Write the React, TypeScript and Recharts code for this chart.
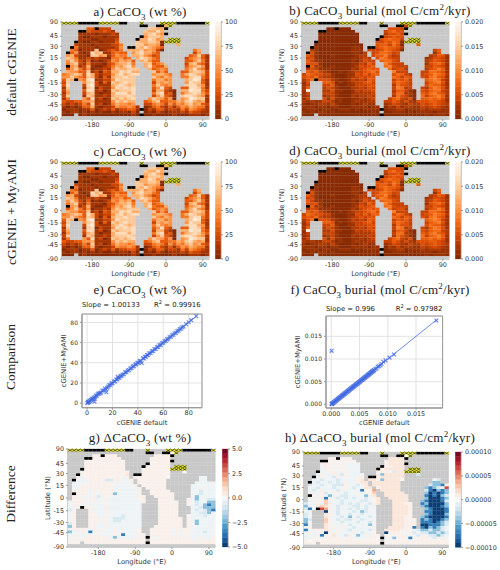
import { ScatterChart, Scatter, XAxis, YAxis, CartesianGrid, ReferenceArea } from "recharts";

// ocean/land mask of the cGENIE grid: . land, o ocean, # black, y hatched
const landMask = [
  "yyyy## ###yyy yy##.. .y.... yyyy## #####y",
  "...... ...... ...... .##..# #oy... ......",
  "...... oo#ooo ...... ...ooo o#.... ......",
  "....## oooooo o..... ..oooo o..... ......",
  "....oo oooooo oo.... ..oooo o#.... ......",
  "....oo oooooo oo.... .#oooo o..... ......",
  "....oo oooooo oo.... #ooooo o.yyy. ......",
  "...#oo oooooo oo.... oooooo oyyyy. ......",
  "...ooo oooooo ooo... oooooo o...o. ......",
  "..#ooo oooooo ooo.## oooooo o..... ......",
  "..oooo oooooo ooo.oo oooooo o..... ..oo..",
  ".#oooo oooooo oooo.o oooooo ...... ..oo..",
  ".ooooo oooooo oooo.o oooooo ...... .ooooo",
  ".ooooo oooooo ooooo. oooooo ...... oooooo",
  ".ooooo oooooo oooooo .ooooo ...... oooooo",
  ".ooooo oooooo oooooo ..oooo o..... oooooo",
  ".#oooo oooooo oooooo ..oooo oo.... oooooo",
  ".ooooo oooooo oooooo o..ooo oo.... oooooo",
  ".ooooo oooooo oooooo o...oo oo...o oooooo",
  "oooooo oooooo oooooo o...oo ooo..o oooooo",
  "oooooo oooooo oooooo ....oo ooo..o oooooo",
  "ooo#oo oooooo oooooo ....oo ooo... oooooo",
  "oo...o oooooo oooooo ....oo ooo... oooooo",
  "oo...o oooooo oooooo ....oo ooo... oooooo",
  "oo...o oooooo oooooo ....oo ooo..o oooooo",
  "oo...o oooooo oooooo ....oo oooo.o oooooo",
  "oo...o oooooo oooooo ....oo oooo.o oooooo",
  "oo...o oooooo oooooo ....oo oooo.o oooooo",
  "oo...o oooooo oooooo ...ooo oooo.o oooooo",
  "oooooo oooooo oooooo ..oooo oooooo oooooo",
  "oooooo oooooo oooooo ..oooo oooooo oooooo",
  "oooooo oooooo oooooo o.oooo oooooo oooooo",
  "oooooo oooooo oooooo o#oooo oooooo oooooo",
  "oooooo oooooo oooooo o.oooo oooooo oooooo",
  "ooo.oo oooooo oooooo o#oooo oooooo oooooo",
  "...... ...... ...... ...... ...... ......",
];

// wt % per cell, one digit per ten percent
const caco3Wt = [
  "",
  "000000 000000 000000 000000 060000 000000",
  "000000 330222 000000 000776 600000 000000",
  "000000 322232 100000 007668 600000 000000",
  "000011 110111 210000 006786 500000 000000",
  "000010 011101 110000 005777 600000 000000",
  "000011 100111 120000 066875 600000 000000",
  "000010 011011 130000 766776 000000 000000",
  "000211 101111 224000 775665 000060 000000",
  "000411 110111 125000 768654 300000 000000",
  "004301 117012 324066 675652 000000 004600",
  "003510 186711 343305 786643 000000 002500",
  "056211 077561 354406 675423 000000 034731",
  "076411 212110 445340 687643 000000 245631",
  "057521 301012 546563 067533 000000 335741",
  "046721 411102 356674 006734 500000 267431",
  "005612 610012 465785 006843 360000 356751",
  "035742 501121 576677 700634 540000 468541",
  "065533 712032 668786 600073 530003 367762",
  "456763 862122 578678 800056 654004 687652",
  "557543 762031 677877 000075 465004 478842",
  "376054 891122 587777 000046 645000 679831",
  "270005 782031 767877 000026 565000 587731",
  "380002 892111 678767 000047 545000 788651",
  "170001 780211 587878 000035 832003 388741",
  "260003 881201 767778 000026 621006 698842",
  "150002 671011 688868 000047 823004 678753",
  "270001 761121 677787 000025 732007 887651",
  "140005 381201 767678 000576 535005 698771",
  "322335 561111 576766 003467 334465 786561",
  "212124 271201 465545 002245 425354 675632",
  "101013 361011 254454 100134 213135 465441",
  "011101 130121 312233 100213 312214 254321",
  "101101 010100 101102 000102 101112 132211",
  "000001 000000 000001 000010 000100 011101",
  "",
];

// burial per cell, one digit per 0.0012 mol C/cm2/kyr, w = near the top of the scale
const caco3Burial = [
  "",
  "000000 000000 000000 000000 030000 000000",
  "000000 000000 000000 000444 300000 000000",
  "000000 000000 000000 003564 400000 000000",
  "000000 000000 000000 002445 300000 000000",
  "000000 000000 000000 003454 400000 000000",
  "000000 000000 000000 045655 300000 000000",
  "000000 000000 000000 435465 000000 000000",
  "000000 000000 000000 455364 000050 000000",
  "000100 000000 110000 456554 200000 000000",
  "002100 000000 111033 346543 000000 003500",
  "004100 000000 110203 466534 000000 001400",
  "053100 010000 012203 557423 000000 023541",
  "034100 000000 112320 476433 000000 124431",
  "053110 000000 102433 056643 000000 235431",
  "044410 000000 113253 007533 300000 145641",
  "005220 010000 124345 006743 330000 335431",
  "024311 100000 213454 500634 420000 245751",
  "054532 100101 233456 400073 330003 366541",
  "365443 310001 143535 500046 532003 457652",
  "454632 210001 234344 000065 354004 367541",
  "246044 421001 323254 000035 453000 567631",
  "140005 540101 233453 000046 543000 356741",
  "130003 351001 133344 000026 443000 465531",
  "150002 431000 223243 000037 623003 257641",
  "1w0002 241100 132334 000025 531004 356632",
  "130003 331000 122223 000036 622005 467542",
  "120001 231000 212232 000026 431006 356751",
  "130004 141100 112123 000356 324005 565641",
  "212113 320100 121122 003354 242144 455431",
  "101122 131000 101211 001243 213224 345432",
  "111011 011000 111101 100213 122113 234321",
  "011101 100111 010111 100112 201112 122211",
  "101011 010000 000001 000011 101011 110111",
  "000000 000000 000000 000000 000000 101110",
  "",
];

// differences, digits are positive steps and letters negative steps
const deltaWt = [
  "",
  "000000 000000 000000 000000 010000 000000",
  "000000 110111 000000 000111 100000 000000",
  "000000 111111 100000 001111 100000 000000",
  "000011 111111 110000 001111 100000 000000",
  "000011 111111 110000 001111 100000 000000",
  "000011 111111 110000 011111 100000 000000",
  "000011 111111 110000 111111 100000 000000",
  "000111 111111 111000 111111 100000 000000",
  "000111 111111 112000 111111 100000 000000",
  "001a11 111111 1a1011 111111 000000 00aa00",
  "01aaa1 111bb1 1aa101 111111 000000 00aa00",
  "0aaaa1 11111a 1aa101 111111 000000 0aaaa1",
  "0aa111 11111a aaaa10 111111 000000 aaaaaa",
  "0aa111 11111a aaaaa1 011111 000000 aa1aaa",
  "01111a 1a111a aaaaa1 001111 100000 aabaaa",
  "00111a 1a111c aaaaa1 001111 110000 aabaaa",
  "011a1a 1ba1aa aaaaa1 100111 110000 acaaaa",
  "0111a1 1aa1aa aaaaa1 100011 110001 acaabb",
  "a111aa 1a1aaa aaaaaa 100011 111001 abaacc",
  "a11a1a aaa1aa aaaaaa 000011 111001 abacdc",
  "aa1011 aaa1aa aaaaaa 000011 111000 aabccc",
  "b10001 aaa1aa aaaaaa 000011 111000 ababcd",
  "a10001 1aa1aa aaaaaa 000011 111000 aabbca",
  "a10001 1aa1aa abaaaa 000011 111000 aaabaa",
  "a10001 11a1ab bbaaaa 000011 111101 aaaaaa",
  "a10001 11a1ab baaaaa 000011 111101 acaaaa",
  "b10001 1aa1aa aaaaaa 000011 111101 acaaaa",
  "c10001 1aa1aa aaaaaa 000111 111101 aaaaaa",
  "a1111a 1a1aa1 aaaaa1 001111 1a1111 aaaaaa",
  "caa11d a1aaa1 aaaaa1 001111 1a1a11 aaabaa",
  "aa1aa1 a1aaa1 adaaa1 101111 1a1a1a aaaaaa",
  "a1aa11 1111ac aaaaa1 101a11 111a11 aa1aa1",
  "1a1111 111111 111111 101111 111111 a1a111",
  "111011 111111 111111 101111 111111 111111",
  "",
];

const deltaBurial = [
  "",
  "000000 000000 000000 000000 000000 000000",
  "000000 110111 000000 000222 200000 000000",
  "000000 111a11 100000 001222 200000 000000",
  "000011 111a1a a10000 001222 200000 000000",
  "0000a1 1a11aa aa0000 001122 200000 000000",
  "0000a1 1aa11a aa0000 012222 200000 000000",
  "0000aa 111a1a aa0000 1111b2 200000 000000",
  "000a1a a1ab1a aaa000 1c2222 2000b0 000000",
  "000a1a ab1a1a a11000 122222 200000 000000",
  "00aaba aabaaa a12022 1c2222 000000 00ab00",
  "00abaa baba1a a12212 222222 000000 00cc00",
  "0baaba abbb1a aba202 222222 000000 0bccd1",
  "0aabaa abaa1a baa220 122222 000000 cdcba5",
  "0aba1a aab1aa aad114 022222 000000 bdecdc",
  "0aaa1b a11aba a1a113 002222 200000 cededc",
  "0b1a1a caabba aaac12 002222 220000 dedecb",
  "0aa11d aababa baaba1 200222 220000 ceeedc",
  "0a1a13 1aabaa aabba1 200022 22000c deeedb",
  "baa1a3 1aabab abaab1 200022 21100d ceeeec",
  "caa232 1abaaa bbabaa 000022 22100c deeedc",
  "bda054 1abaab ababaa 000022 221000 cdeeed",
  "aa000e 1abaaa bacbaa 000022 221000 ddeeed",
  "ba0002 1abaab aabaaa 000022 221000 cdeeec",
  "ba0002 1aabac abaaba 000022 21100c deeeed",
  "cb0003 1ababb aabaaa 000022 21110d cdeedc",
  "ca0003 1aabaa abaaba 000022 21110d ddedcb",
  "da0002 1aa1ab aaaaca 000022 21110e edddcb",
  "a10002 11a1aa baaaa1 000222 211d0d ecdcba",
  "da1112 1a1aab aaaab1 002222 111abc cbccba",
  "a1aa1e 1a1aaa 1abaa1 00e111 1a1bab bccbcb",
  "aaa1da 12aab1 aca1a1 100111 1a1ab1 abbcba",
  "a1a1a1 111a11 aaaa11 00a1c1 11d111 1ab1a1",
  "101111 111111 111111 10a111 111111 111111",
  "111011 111111 111111 101111 111111 111111",
  "",
];

const latTicks = [90, 45, 30, 15, 0, -15, -30, -45, -90];
const lonTicks = [-180, -90, 0, 90];

const wtBarTicks = [0, 25, 50, 75, 100];
const burialBarTicks = [0, 0.005, 0.01, 0.015, 0.02];
const deltaWtBarTicks = [-5, -2.5, 0, 2.5, 5];
const deltaBurialBarTicks = [-0.0001, -0.00005, 0, 0.00005, 0.0001];

// panel e, read along the diagonal
const wtDefault = [0.2, 0.5, 0.8, 1.1, 1.5, 1.9, 2.4, 3, 3.5, 4, 4.6, 5.2, 5.8, 6, 6.4, 7, 7.6, 8.3, 9, 9.6, 10.4, 11, 12, 13, 14, 15, 15.2, 15.8, 16.7, 17.5, 18.4, 19.2, 20, 21, 22, 23, 23.8, 24.2, 24.6, 25.5, 26.4, 27.2, 28, 29, 30, 31, 32, 33, 34, 35, 36, 37, 38, 38.8, 39.6, 40.5, 41.4, 42.2, 43, 44, 44.8, 45.6, 46.4, 47.2, 48, 49, 50, 51, 52, 53, 54, 55, 56, 57, 58, 59, 60, 61, 62, 63, 64, 65, 66, 67, 68, 69, 70, 71, 72, 73, 74, 75, 76, 78, 80, 82, 86];
const wtMyami = [0.1, 0.7, 0.6, 1.4, 1.2, 2.3, 2.1, 3.4, 3.1, 4.4, 4.2, 5.6, 1.5, 4.4, 6.1, 7.5, 7.2, 8.8, 9.6, 9.3, 10.1, 10.6, 12.4, 12.6, 14.5, 13.6, 10.8, 15.3, 16.4, 17.8, 18.1, 19.6, 19.7, 21.5, 21.6, 23.4, 23.4, 26, 24.9, 25.1, 26.8, 27, 28.4, 28.7, 30.5, 30.7, 32.4, 32.7, 34.3, 34.7, 36.4, 36.6, 38.3, 38.5, 40, 40.1, 41.8, 41.8, 39.8, 44.4, 44.3, 46, 46, 47.6, 47.7, 49.3, 49.7, 51.3, 51.7, 53.3, 53.7, 55.3, 55.7, 57.3, 57.7, 59.3, 59.8, 61.2, 61.8, 63.2, 63.8, 65.2, 65.7, 67.3, 67.7, 69.2, 69.8, 71.2, 71.8, 73.2, 73.8, 75.2, 75.9, 78.2, 80.1, 82.2, 86.2];

// panel f
const burialDefault = [0.00005, 0.0001, 0.00015, 0.0002, 0.0003, 0.0004, 0.0005, 0.0006, 0.0007, 0.0008, 0.0009, 0.001, 0.0011, 0.0012, 0.0013, 0.0014, 0.0015, 0.0016, 0.0017, 0.0018, 0.0019, 0.002, 0.0021, 0.0022, 0.0023, 0.0024, 0.0025, 0.0026, 0.0027, 0.0028, 0.0029, 0.003, 0.0031, 0.0032, 0.0033, 0.0034, 0.0035, 0.0036, 0.0037, 0.0038, 0.0039, 0.004, 0.0041, 0.0042, 0.0043, 0.0044, 0.0045, 0.0046, 0.0047, 0.0048, 0.0049, 0.005, 0.0051, 0.0052, 0.0053, 0.0054, 0.0055, 0.0056, 0.0057, 0.0058, 0.0059, 0.006, 0.0061, 0.0062, 0.0063, 0.0064, 0.0065, 0.0066, 0.0067, 0.0068, 0.0069, 0.007, 0.0071, 0.0072, 0.0073, 0.0074, 0.0075, 0.0076, 0.0078, 0.008, 0.0082, 0.0084, 0.0087, 0.0089, 0.0092, 0.0096, 0.0103, 0.0111, 0.0186, 0.00005];
const burialMyami = [0.00006, 0.00008, 0.0002, 0.00018, 0.00032, 0.00037, 0.00052, 0.00057, 0.00073, 0.00076, 0.00092, 0.00098, 0.00112, 0.00118, 0.00133, 0.00137, 0.00152, 0.00157, 0.00173, 0.00177, 0.00192, 0.00197, 0.00212, 0.00217, 0.00232, 0.00237, 0.00252, 0.00257, 0.00272, 0.00277, 0.00292, 0.00297, 0.00312, 0.00317, 0.00332, 0.00337, 0.00352, 0.00357, 0.00372, 0.00376, 0.00392, 0.00396, 0.00412, 0.00416, 0.00432, 0.00436, 0.0045, 0.00456, 0.0047, 0.00476, 0.0049, 0.00496, 0.0051, 0.00516, 0.0053, 0.00536, 0.0055, 0.00556, 0.0057, 0.00576, 0.0059, 0.00596, 0.0061, 0.00616, 0.0063, 0.00636, 0.0065, 0.00656, 0.0067, 0.00676, 0.0069, 0.00696, 0.0071, 0.00716, 0.0073, 0.00736, 0.0075, 0.00756, 0.0078, 0.0079, 0.0083, 0.0084, 0.0086, 0.0089, 0.0094, 0.0097, 0.0103, 0.011, 0.0185, 0.0118];

const wtFit = [0, 86.4];
const burialFit = [0, 0.0186];

const colorbarSteps = Array.from({ length: 21 }, (_, i) => i / 21 + 1 / 42);

const oranges = ["#7f2704", "#a63603", "#d94801", "#f16913", "#fd8d3c", "#fdae6b", "#fdd0a2", "#fee6ce", "#fff5eb"];
const rdbu = ["#053061", "#2166ac", "#4393c3", "#92c5de", "#d1e5f0", "#f7f7f7", "#fddbc7", "#f4a582", "#d6604d", "#b2182b", "#67001f"];

const deltaSteps: Record<string, number> = { "0": 0, "1": 0.05, "2": 0.12, "3": 0.25, "4": 0.4, "5": 0.65, a: -0.05, b: -0.16, c: -0.42, d: -0.7, e: -0.95 };

function ramp(stops: string[], t: number) {
  const p = Math.min(Math.max(t, 0), 1) * (stops.length - 1);
  const i = Math.min(Math.floor(p), stops.length - 2);
  const f = p - i;
  const c = (s: string, k: number) => parseInt(s.slice(1 + k * 2, 3 + k * 2), 16);
  const mix = [0, 1, 2].map((k) => Math.round(c(stops[i], k) * (1 - f) + c(stops[i + 1], k) * f));
  return `rgb(${mix[0]},${mix[1]},${mix[2]})`;
}

const tickStyle = { fontSize: 6.4, fill: "#333", fontFamily: "DejaVu Sans" };
const labelStyle = { fontSize: 6.8, fill: "#333", fontFamily: "DejaVu Sans" };

const GRID_N = 36;

function buildCells(rows: string[], decode: (c: string) => number) {
  const cells = [];
  for (let r = 0; r < GRID_N; r++) {
    const mask = landMask[r].replace(/ /g, "");
    const vals = (rows[r] || "").replace(/ /g, "");
    for (let c = 0; c < GRID_N; c++) {
      const kind = mask[c];
      cells.push({
        lon: -249 + c * 10,
        sinLat: 1 - (r + 0.5) / 18,
        kind,
        value: kind === "o" ? decode(vals[c] || "0") : 0,
      });
    }
  }
  return cells;
}

function Heatmap({ left, top, w, h, cells, colorOf }: any) {
  const cw = w / GRID_N + 0.25;
  const ch = h / GRID_N + 0.25;
  const drawCell = (props: any) => {
    const { cx, cy, payload } = props;
    const x = cx - cw / 2;
    const y = cy - ch / 2;
    if (payload.kind === "y") {
      return (
        <g>
          <rect x={x} y={y} width={cw} height={ch} fill="#d9d91e" />
          <path d={`M${x} ${y}L${x + cw} ${y + ch}M${x + cw} ${y}L${x} ${y + ch}`} stroke="#222" strokeWidth={0.6} />
        </g>
      );
    }
    const fill = payload.kind === "." ? "#c8c8c8" : payload.kind === "#" ? "#000" : colorOf(payload.value);
    return <rect x={x} y={y} width={cw} height={ch} fill={fill} />;
  };
  return (
    <div style={{ position: "absolute", left: left - 30, top: top - 4 }}>
      <ScatterChart width={w + 34} height={h + 26} margin={{ left: 0, right: 4, top: 4, bottom: 4 }}>
        <XAxis
          type="number"
          dataKey="lon"
          domain={[-254, 106]}
          ticks={lonTicks}
          tick={tickStyle}
          tickSize={2}
          tickMargin={1}
          height={18}
          stroke="#999"
          label={{ value: "Longitude (°E)", position: "insideBottom", offset: 1, style: labelStyle }}
        />
        <YAxis
          type="number"
          dataKey="sinLat"
          domain={[-1, 1]}
          ticks={latTicks.map((d) => Math.sin((d * Math.PI) / 180))}
          tickFormatter={(v: number) => String(Math.round((Math.asin(v) * 180) / Math.PI))}
          interval={0}
          tick={tickStyle}
          tickSize={2}
          width={30}
          stroke="#999"
          label={{ value: "Latitude (°N)", angle: -90, position: "insideLeft", offset: 10, style: { ...labelStyle, textAnchor: "middle" } }}
        />
        <Scatter data={cells} shape={drawCell} isAnimationActive={false} />
      </ScatterChart>
    </div>
  );
}

function Colorbar({ left, top, h, min, max, ticks, colorOf, format }: any) {
  const data = colorbarSteps.map((t) => ({ x: 0.5, y: min + t * (max - min), t }));
  const drawStep = (props: any) => {
    const ch = h / colorbarSteps.length + 0.3;
    return <rect x={props.cx - 2.8} y={props.cy - ch / 2} width={5.6} height={ch} fill={colorOf(props.payload.y)} />;
  };
  return (
    <div style={{ position: "absolute", left, top: top - 4 }}>
      <ScatterChart width={46} height={h + 8} margin={{ left: 0, right: 0, top: 4, bottom: 4 }}>
        <XAxis type="number" dataKey="x" domain={[0, 1]} hide />
        <YAxis
          type="number"
          dataKey="y"
          orientation="right"
          domain={[min, max]}
          ticks={ticks}
          interval={0}
          tickFormatter={format}
          tick={{ ...tickStyle, textAnchor: "start" }}
          tickSize={2}
          width={40}
          stroke="#999"
        />
        <Scatter data={data} shape={drawStep} isAnimationActive={false} />
      </ScatterChart>
    </div>
  );
}

const xMark = (props: any) => (
  <path
    d={`M${props.cx - 1.9} ${props.cy - 1.9}l3.8 3.8M${props.cx + 1.9} ${props.cy - 1.9}l-3.8 3.8`}
    stroke="#4169e1"
    strokeOpacity={0.8}
    strokeWidth={1.1}
  />
);

function Comparison({ left, top, w, h, xs, ys, fit, xDomain, yDomain, ticks, yTicks, format, yAxisWidth, labelOffset }: any) {
  const points = xs.map((x: number, i: number) => ({ x, y: ys[i] }));
  const fitLine = fit.map((v: number) => ({ x: v, y: v }));
  return (
    <div style={{ position: "absolute", left: left - yAxisWidth - 6, top: top - 4 }}>
      <ScatterChart width={w + yAxisWidth + 10} height={h + 26} margin={{ left: 6, right: 4, top: 4, bottom: 5 }}>
        <CartesianGrid stroke="#e2e2e2" strokeWidth={1} />
        <XAxis
          type="number"
          dataKey="x"
          domain={xDomain}
          ticks={ticks}
          interval={0}
          tickFormatter={format}
          tick={tickStyle}
          tickSize={2}
          tickMargin={1}
          height={17}
          stroke="#999"
          label={{ value: "cGENIE default", position: "insideBottom", offset: 0, style: labelStyle }}
        />
        <YAxis
          type="number"
          dataKey="y"
          domain={yDomain}
          ticks={yTicks}
          interval={0}
          tickFormatter={format}
          tick={{ ...tickStyle, fontSize: 6 }}
          tickSize={2}
          width={yAxisWidth}
          stroke="#999"
          label={{ value: "cGENIE+MyAMI", angle: -90, position: "insideLeft", offset: labelOffset, style: { ...labelStyle, textAnchor: "middle" } }}
        />
        <ReferenceArea x1={xDomain[0]} x2={xDomain[1]} y1={yDomain[0]} y2={yDomain[1]} fill="none" stroke="#999" />
        <Scatter data={points} shape={xMark} isAnimationActive={false} />
        <Scatter data={fitLine} line={{ stroke: "#4169e1", strokeWidth: 0.8 }} shape={() => <g />} isAnimationActive={false} />
      </ScatterChart>
    </div>
  );
}

function Title({ cx, top, children }: any) {
  return (
    <div
      style={{
        position: "absolute",
        left: cx - 125,
        width: 250,
        top,
        textAlign: "center",
        fontFamily: "Liberation Serif",
        fontSize: 13,
        letterSpacing: 0.25,
        lineHeight: "14px",
        color: "#222",
        whiteSpace: "nowrap",
      }}
    >
      {children}
    </div>
  );
}

function RowLabel({ cx, cy, children }: any) {
  return (
    <div
      style={{
        position: "absolute",
        left: cx - 70,
        top: cy - 8,
        width: 140,
        height: 16,
        lineHeight: "16px",
        textAlign: "center",
        transform: "rotate(-90deg)",
        fontFamily: "Liberation Serif",
        fontSize: 13.5,
        color: "#222",
        whiteSpace: "nowrap",
      }}
    >
      {children}
    </div>
  );
}

function Note({ left, top, children }: any) {
  return (
    <div style={{ position: "absolute", left, top, fontFamily: "DejaVu Sans", fontSize: 6.9, lineHeight: "8px", color: "#222", whiteSpace: "nowrap" }}>
      {children}
    </div>
  );
}

const Cac = () => (
  <>
    CaCO<sub style={{ fontSize: 9, lineHeight: 0 }}>3</sub>
  </>
);
const Cm2 = () => (
  <>
    (mol C/cm<sup style={{ fontSize: 9, lineHeight: 0 }}>2</sup>/kyr)
  </>
);

const wtColor = (v: number) => ramp(oranges, v / 100);
const burialColor = (v: number) => ramp(oranges, v / 0.02);
const deltaWtColor = (v: number) => ramp(rdbu, (v / 5 + 1) / 2);
const deltaBurialColor = (v: number) => ramp(rdbu, (v / 0.0001 + 1) / 2);

const wtCells = buildCells(caco3Wt, (c) => (Number(c) + 0.2) * 10);
const burialCells = buildCells(caco3Burial, (c) => (c === "w" ? 0.0186 : (Number(c) + 0.5) * 0.0012));
const deltaWtCells = buildCells(deltaWt, (c) => (deltaSteps[c] || 0) * 5);
const deltaBurialCells = buildCells(deltaBurial, (c) => (deltaSteps[c] || 0) * 0.0001);

export default function App() {
  return (
    <div style={{ position: "absolute", left: 0, top: 0, width: 500, height: 570, background: "#fff", overflow: "hidden" }}>
      <RowLabel cx={12} cy={72}>default cGENIE</RowLabel>
      <RowLabel cx={12} cy={212}>cGENIE + MyAMI</RowLabel>
      <RowLabel cx={11} cy={357}>Comparison</RowLabel>
      <RowLabel cx={11} cy={494}>Difference</RowLabel>

      <Title cx={140} top={5}>a) <Cac /> (wt %)</Title>
      <Title cx={380} top={4}>b) <Cac /> burial <Cm2 /></Title>
      <Title cx={140} top={145}>c) <Cac /> (wt %)</Title>
      <Title cx={380} top={144}>d) <Cac /> burial <Cm2 /></Title>
      <Title cx={140} top={283}>e) <Cac /> (wt %)</Title>
      <Title cx={380} top={283}>f) <Cac /> burial <Cm2 /></Title>
      <Title cx={140} top={431}>g) Δ<Cac /> (wt %)</Title>
      <Title cx={380} top={431}>h) Δ<Cac /> burial <Cm2 /></Title>

      <Heatmap left={61.7} top={22.3} w={147.3} h={97} cells={wtCells} colorOf={wtColor} />
      <Colorbar left={214.5} top={22.3} h={97} min={0} max={100} ticks={wtBarTicks} colorOf={wtColor} />
      <Heatmap left={301.7} top={22.3} w={147.3} h={97} cells={burialCells} colorOf={burialColor} />
      <Colorbar left={454.5} top={22.3} h={97} min={0} max={0.02} ticks={burialBarTicks} colorOf={burialColor} format={(v: number) => v.toFixed(3)} />

      <Heatmap left={61.7} top={162.3} w={147.3} h={97} cells={wtCells} colorOf={wtColor} />
      <Colorbar left={214.5} top={162.3} h={97} min={0} max={100} ticks={wtBarTicks} colorOf={wtColor} />
      <Heatmap left={301.7} top={162.3} w={147.3} h={97} cells={burialCells} colorOf={burialColor} />
      <Colorbar left={454.5} top={162.3} h={97} min={0} max={0.02} ticks={burialBarTicks} colorOf={burialColor} format={(v: number) => v.toFixed(3)} />

      <Note left={82} top={301}>Slope = 1.00133</Note>
      <Note left={154} top={301}>R<sup style={{ fontSize: 5, lineHeight: 0 }}>2</sup> = 0.99916</Note>
      <Comparison
        left={82}
        top={314}
        w={120}
        h={93.7}
        xs={wtDefault}
        ys={wtMyami}
        fit={wtFit}
        xDomain={[-4, 90.5]}
        yDomain={[-4.5, 88.3]}
        ticks={[0, 20, 40, 60, 80]}
        yTicks={[0, 20, 40, 60, 80]}
        yAxisWidth={20}
        labelOffset={2}
      />
      <Note left={326} top={305}>Slope = 0.996</Note>
      <Note left={395.7} top={305}>R<sup style={{ fontSize: 5, lineHeight: 0 }}>2</sup> = 0.97982</Note>
      <Comparison
        left={325.7}
        top={315.7}
        w={116.6}
        h={92}
        xs={burialDefault}
        ys={burialMyami}
        fit={burialFit}
        xDomain={[-0.00094, 0.0197]}
        yDomain={[-0.0008, 0.01948]}
        ticks={[0, 0.005, 0.01, 0.015]}
        yTicks={[0, 0.005, 0.01, 0.015]}
        format={(v: number) => v.toFixed(3)}
        yAxisWidth={28}
        labelOffset={0}
      />

      <Heatmap left={68.3} top={449.3} w={147.4} h={98} cells={deltaWtCells} colorOf={deltaWtColor} />
      <Colorbar left={221.5} top={449.3} h={98} min={-5} max={5} ticks={deltaWtBarTicks} colorOf={deltaWtColor} format={(v: number) => v.toFixed(1).replace("-", "−")} />
      <Heatmap left={304.3} top={452.3} w={144.7} h={95.4} cells={deltaBurialCells} colorOf={deltaBurialColor} />
      <Colorbar left={454.5} top={452.3} h={95.4} min={-0.0001} max={0.0001} ticks={deltaBurialBarTicks} colorOf={deltaBurialColor} format={(v: number) => v.toFixed(5).replace("-", "−")} />
    </div>
  );
}
